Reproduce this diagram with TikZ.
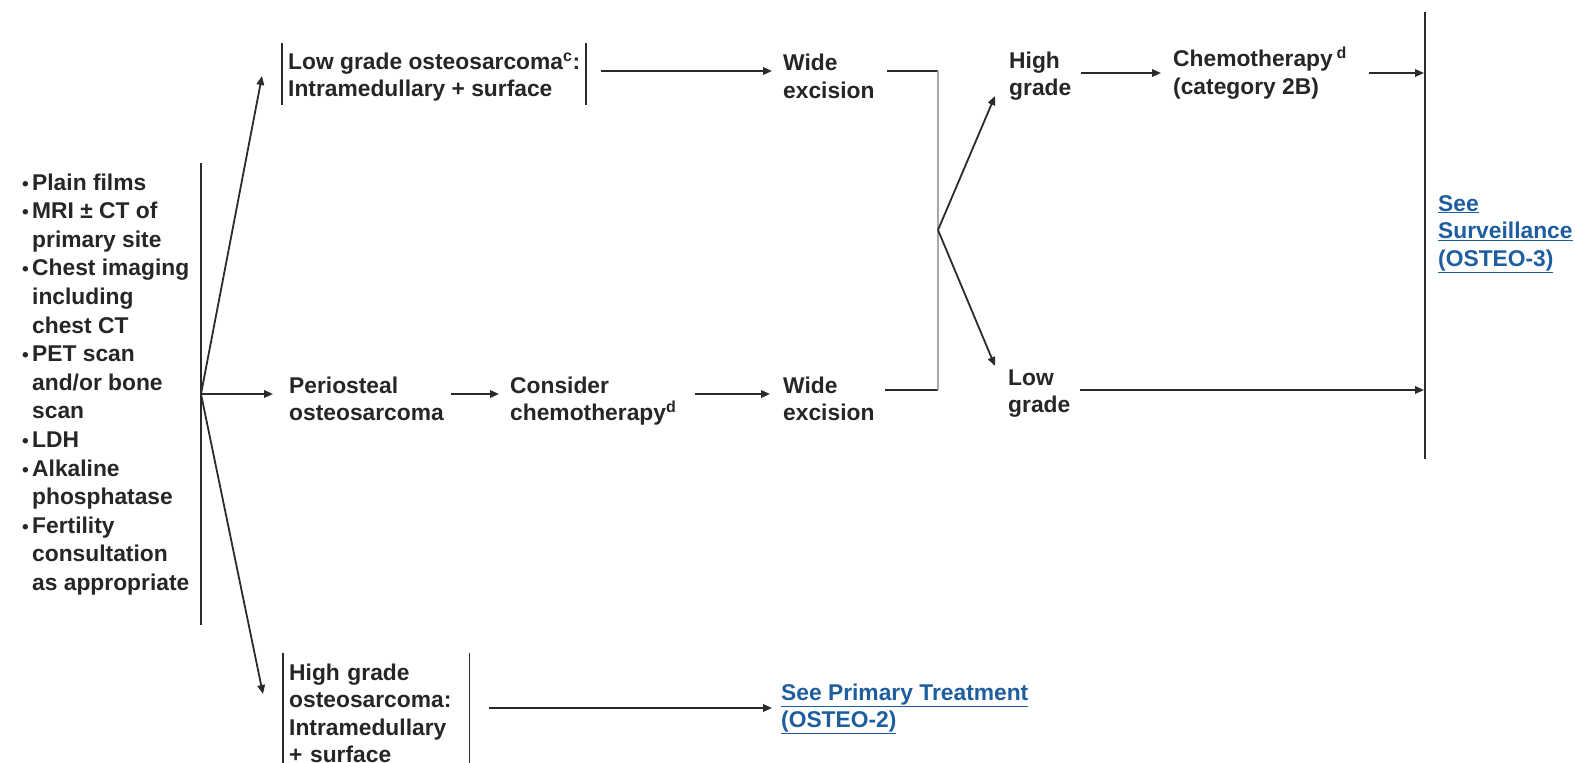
\documentclass[tikz,border=0pt]{standalone}
\usepackage{fontspec}
\setmainfont{Liberation Sans}
\usetikzlibrary{arrows.meta}
\definecolor{ink}{HTML}{262626}
\definecolor{linkblue}{HTML}{1F5E9E}
\definecolor{rulecol}{HTML}{2B2B2B}
\definecolor{greyrule}{HTML}{A8A8A8}
\newcommand\bul{\makebox[10pt][l]{\fontsize{19}{19}\selectfont •}}
\newcommand\ind{\hspace*{10pt}}
\begin{document}
\begin{tikzpicture}[x=1pt,y=-1pt,
  txt/.style={font=\bfseries\fontsize{22.8}{27.5}\selectfont, text=ink, align=left,
              inner sep=0pt, anchor=base west},
  link/.style={txt, text=linkblue},
  arr/.style={draw=rulecol, line width=1.8pt, -{Triangle[length=9pt,width=7.5pt]}},
  bar/.style={draw=rulecol, line width=1.8pt},
  greybar/.style={draw=greyrule, line width=1.8pt},
]
\clip (0,0) rectangle (1575,763);
\fill[white] (0,0) rectangle (1575,763);

% row levels of the horizontal connectors
\coordinate (r1) at (0,71);
\coordinate (rH) at (0,73);
\coordinate (rL) at (0,390);
\coordinate (r2) at (0,394);
\coordinate (r3) at (0,708);

% workup (a multi-line node sits on the baseline of its last line)
\node[txt, font=\bfseries\fontsize{22.8}{28.6}\selectfont] (work) at (22,590.4)
  {\bul Plain films\\
   \bul MRI ± CT of\\
   \ind primary site\\
   \bul Chest imaging\\
   \ind including\\
   \ind chest CT\\
   \bul PET scan\\
   \ind and/or bone\\
   \ind scan\\
   \bul LDH\\
   \bul Alkaline\\
   \ind phosphatase\\
   \bul Fertility\\
   \ind consultation\\
   \ind as appropriate};
\coordinate (wtop) at (201,163);
\coordinate (wbot) at (201,625);
\coordinate (fork) at (201,394);
\draw[bar] (wtop) -- (wbot);

% low grade branch
\node[txt, inner xsep=6pt, inner ysep=9pt] (lg) at (282,96.5)
  {Low grade osteosarcoma\textsuperscript{c}:\\Intramedullary + surface};
\draw[bar] (lg.north west) -- ([yshift=5pt]lg.south west);
\draw[bar] (lg.north east) -- ([yshift=5pt]lg.south east);
\node[txt] (we1) at (783,98) {Wide\\excision};

% periosteal branch
\node[txt] (peri) at (289,420.5) {Periosteal\\osteosarcoma};
\node[txt] (cons) at (510,420.5) {Consider\\chemotherapy\textsuperscript{d}};
\node[txt] (we2) at (783,420.5) {Wide\\excision};

% high grade branch (a fixed-width node sits on the baseline of its first line)
\node[txt, inner xsep=6pt, inner ysep=10pt, text width=174pt] (hgb) at (283,680)
  {High grade\\osteosarcoma:\\Intramedullary\\+ surface};
\draw[bar] (hgb.north west) -- (hgb.south west);
\draw[bar] (hgb.north east) -- (hgb.south east);
\node[link] (prim) at (781,727.5)
  {\underline{See Primary Treatment}\\\underline{(OSTEO-2)}};

% pathology grade after excision
\node[txt] (hg) at (1009,95.5) {High\\grade};
\node[txt] (chemo) at (1173,94) {Chemotherapy\,\textsuperscript{d}\\(category 2B)};
\node[txt] (lo) at (1008,412.5) {Low\\grade};

% surveillance
\coordinate (stop) at (1425,12);
\coordinate (sbot) at (1425,459);
\draw[bar] (stop) -- (sbot);
\node[link] (surv) at (1438,266)
  {\underline{See}\\\underline{Surveillance}\\\underline{(OSTEO-3)}};

% tips of the slanted arrows
\coordinate (tLG) at (262,76);
\coordinate (tHGB) at (263,694);
\coordinate (tHG) at (995,96);
\coordinate (tLO) at (995,366);
\coordinate (j1) at (938,71);
\coordinate (j2) at (938,390);
\coordinate (split) at (938,230);

% connectors from the workup
\draw[arr] (fork) -- (tLG);
\draw[arr, shorten >=16pt] (fork) -- (peri.west |- r2);
\draw[arr] (fork) -- (tHGB);

\draw[arr, shorten <=15pt, shorten >=11pt] (lg.east |- r1) -- (we1.west |- r1);
\draw[arr, shorten <=7pt, shorten >=11pt] (peri.east |- r2) -- (cons.west |- r2);
\draw[arr, shorten <=18pt, shorten >=13pt] (cons.east |- r2) -- (we2.west |- r2);
\draw[arr, shorten <=20pt, shorten >=9pt] (hgb.east |- r3) -- (prim.west |- r3);

% joining the two excisions
\draw[bar, shorten <=12pt] (we1.east |- r1) -- (j1);
\draw[bar, shorten <=10pt] (we2.east |- rL) -- (j2);
\draw[greybar] (j1) -- (j2);
\draw[arr] (split) -- (tHG);
\draw[arr] (split) -- (tLO);

% on to surveillance
\draw[arr, shorten <=10pt, shorten >=12pt] (hg.east |- rH) -- (chemo.west |- rH);
\draw[arr, shorten <=22pt, shorten >=1pt] (chemo.east |- rH) -- (stop |- rH);
\draw[arr, shorten <=10pt, shorten >=1pt] (lo.east |- rL) -- (stop |- rL);
\end{tikzpicture}
\end{document}
